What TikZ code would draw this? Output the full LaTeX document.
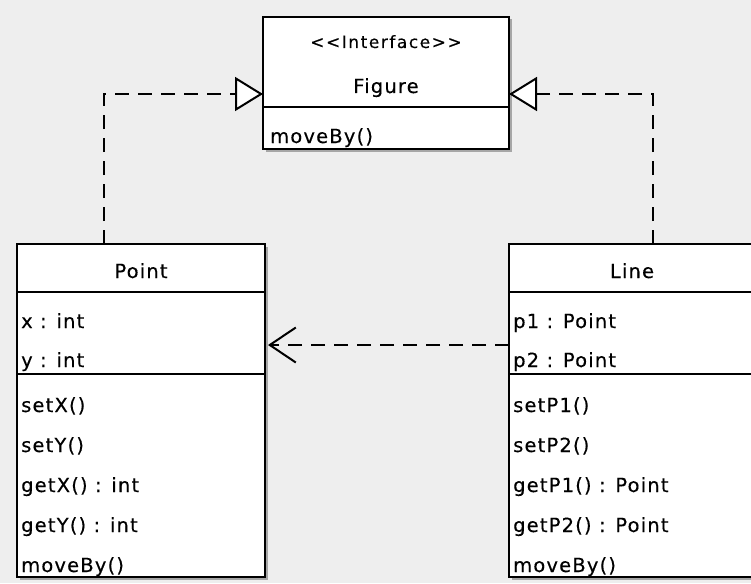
\documentclass[tikz,border=0pt]{standalone}
\usepackage{fontspec}
\setmainfont{DejaVu Sans}
\newfontfamily\umlfont{DejaVu Sans}[LetterSpace=6, FakeBold=0.3]
\newfontfamily\stereofont{DejaVu Sans}[LetterSpace=9, FakeBold=0.3]
\usetikzlibrary{arrows.meta,shadows}
\definecolor{umlbg}{RGB}{238,238,238}

\begin{document}
\begin{tikzpicture}[x=1pt, y=-1pt,
    classbox/.style={rectangle, draw=black, line width=2pt, fill=white, anchor=north west,
        inner sep=0pt, outer sep=0pt,
        drop shadow={shadow xshift=2.5pt, shadow yshift=-2.5pt, fill=black!35, opacity=1}},
    member/.style={anchor=base west, inner sep=0pt, font=\umlfont\fontsize{19.5}{22}\selectfont},
    title/.style={anchor=base, inner sep=0pt, font=\umlfont\fontsize{19.5}{22}\selectfont},
    stereo/.style={anchor=base, inner sep=0pt, font=\stereofont\fontsize{17}{20}\selectfont},
    sep/.style={line width=1.8pt},
    realize/.style={line width=2pt, dash pattern=on 14pt off 9pt,
        -{Triangle[open, fill=white, length=28pt, width=34pt]}},
    depend/.style={line width=2pt, dash pattern=on 14pt off 9pt, shorten >=3pt,
        -{Straight Barb[length=26pt, width=35pt]}}
]
    \fill[umlbg] (0,0) rectangle (751,583);
    \clip (0,0) rectangle (751,583);

    % interface
    \node[classbox, minimum width=246pt, minimum height=132pt] (fig) at (263,17) {};
    \draw[sep] (fig.west |- 0,107) -- (fig.east |- 0,107);
    \node[stereo] (figstereo) at (386,48) {<<Interface>>};
    \node[title] (figname) at (386,93) {Figure};
    \node[member] (figmove) at (270,143) {moveBy()};

    % class Point
    \node[classbox, minimum width=248pt, minimum height=333pt] (pt) at (17,244) {};
    \draw[sep] (pt.west |- 0,292) -- (pt.east |- 0,292);
    \draw[sep] (pt.west |- 0,374) -- (pt.east |- 0,374);
    \node[title] (ptname) at (141,278) {Point};
    \node[member] (ptx) at (21,328) {x : int};
    \node[member] (pty) at (21,367) {y : int};
    \node[member] (ptsetx) at (21,412) {setX()};
    \node[member] (ptsety) at (21,452) {setY()};
    \node[member] (ptgetx) at (21,492) {getX() : int};
    \node[member] (ptgety) at (21,532) {getY() : int};
    \node[member] (ptmove) at (21,572) {moveBy()};

    % class Line
    \node[classbox, minimum width=246pt, minimum height=333pt] (ln) at (509,244) {};
    \draw[sep] (ln.west |- 0,292) -- (ln.east |- 0,292);
    \draw[sep] (ln.west |- 0,374) -- (ln.east |- 0,374);
    \node[title] (lnname) at (632,278) {Line};
    \node[member] (lnp1) at (513,328) {p1 : Point};
    \node[member] (lnp2) at (513,367) {p2 : Point};
    \node[member] (lnsetp1) at (513,412) {setP1()};
    \node[member] (lnsetp2) at (513,452) {setP2()};
    \node[member] (lngetp1) at (513,492) {getP1() : Point};
    \node[member] (lngetp2) at (513,532) {getP2() : Point};
    \node[member] (lnmove) at (513,572) {moveBy()};

    % relations
    \draw[realize] ([xshift=-37pt]pt.north) |- ([yshift=-11pt]fig.west);
    \draw[realize] ([xshift=21pt]ln.north) |- ([yshift=-11pt]fig.east);
    \draw[depend] ([yshift=65.5pt]ln.west) -- ([yshift=65.5pt]pt.east);
\end{tikzpicture}
\end{document}
